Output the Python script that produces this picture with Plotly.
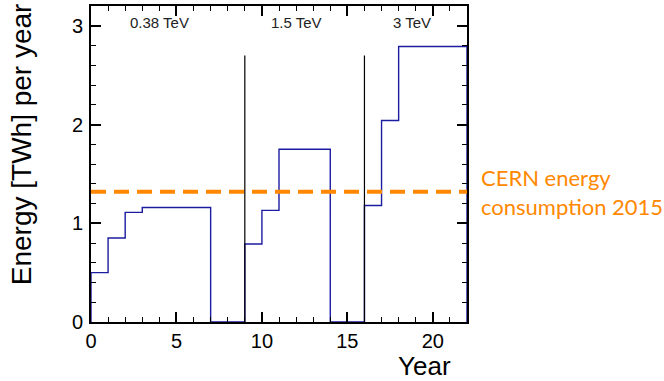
import plotly.graph_objects as go

# Yearly energy consumption (TWh), one value per year bin [i, i+1)
years = list(range(0, 23))
energy = [0.50, 0.85, 1.11, 1.16, 1.16, 1.16, 1.16, 0.0, 0.0,
          0.79, 1.13, 1.75, 1.75, 1.75, 0.0, 0.0,
          1.18, 2.04, 2.79, 2.79, 2.79, 2.79]
stage_bounds = [9, 16]
stage_line_top = 2.70
stage_labels = ["0.38 TeV", "1.5 TeV", "3 TeV"]
stage_label_x = [4.0, 12.0, 18.8]
cern_2015 = 1.32
cern_label = "CERN energy<br>consumption 2015"

xs = [years[0]] + years + [years[-1]]
ys = [0.0] + energy + [energy[-1]] + [0.0]

fig = go.Figure()
fig.add_trace(go.Scatter(
    x=xs, y=ys, mode="lines", line=dict(shape="hv", color="#1c1ca0", width=1.4),
    showlegend=False, hoverinfo="skip", cliponaxis=False))

vx, vy = [], []
for b in stage_bounds:
    vx += [b, b, None]
    vy += [0, stage_line_top, None]
fig.add_trace(go.Scatter(x=vx, y=vy, mode="lines",
                         line=dict(color="black", width=1.2),
                         showlegend=False, hoverinfo="skip"))

fig.add_trace(go.Scatter(x=[0, 22], y=[cern_2015, cern_2015], mode="lines",
                         line=dict(color="#ff8800", width=4, dash="15px,8px"),
                         showlegend=False, hoverinfo="skip"))

for lab, lx in zip(stage_labels, stage_label_x):
    fig.add_annotation(x=lx, y=3.03, text=lab, showarrow=False, xref="x", yref="y",
                       font=dict(family="Liberation Sans", size=15, color="#222"))

fig.add_annotation(x=1.0, xref="paper", xshift=12, y=cern_2015, yref="y",
                   text=cern_label, showarrow=False, xanchor="left", yanchor="middle",
                   align="left",
                   font=dict(family="Lato", size=22, color="#ff8800"))

# axis titles (ROOT style, aligned to axis ends)
fig.add_annotation(x=0, xref="paper", xshift=-70, y=1.80, yref="y",
                   text="Energy [TWh] per year", textangle=-90, showarrow=False,
                   xanchor="center", yanchor="middle",
                   font=dict(family="Liberation Sans", size=28, color="black"))
fig.add_annotation(x=22, xref="x", xshift=-14, y=0, yref="paper", yshift=-44,
                   text="Year", showarrow=False, xanchor="right", yanchor="middle",
                   font=dict(family="Liberation Sans", size=26, color="black"))

axis_common = dict(showline=True, linecolor="black", linewidth=2, mirror="ticks",
                   ticks="inside", tickcolor="black", tickwidth=1.5,
                   showgrid=False, zeroline=False, automargin=False,
                   tickfont=dict(family="Liberation Sans", size=20, color="black"))

fig.update_xaxes(range=[0, 22], tick0=0, dtick=5, ticklen=10,
                 minor=dict(dtick=1, ticklen=5, ticks="inside", tickcolor="black", tickwidth=1.2),
                 **axis_common)
fig.update_yaxes(range=[0, 3.2], tick0=0, dtick=1, ticklen=10, ticklabelstandoff=2,
                 minor=dict(dtick=0.2, ticklen=5, ticks="inside", tickcolor="black", tickwidth=1.2),
                 **axis_common)

fig.update_layout(width=664, height=381, margin=dict(l=91, r=197, t=6, b=59),
                  plot_bgcolor="white", paper_bgcolor="white")

fig.write_html("out.html", config={"displayModeBar": False},
               post_script="document.body.style.margin='0';document.body.style.overflow='hidden';")
